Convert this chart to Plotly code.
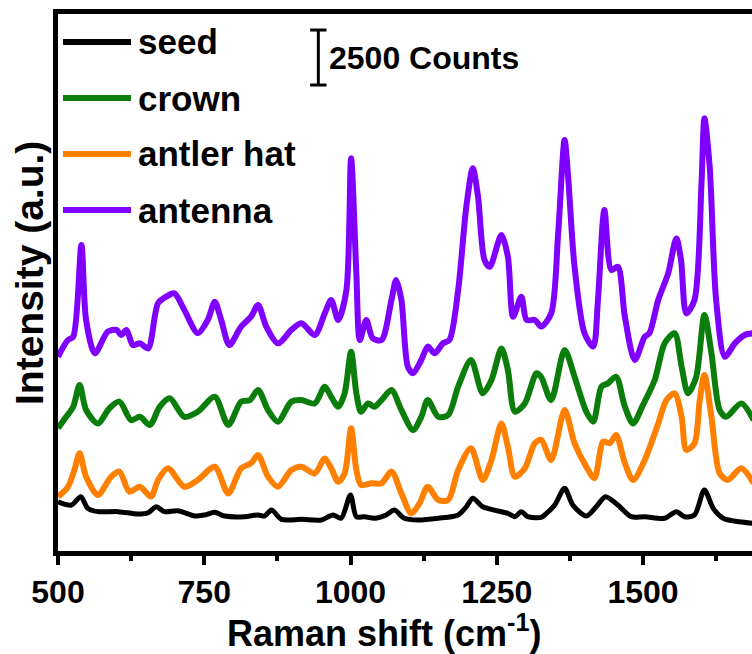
import plotly.graph_objects as go

# ---------------- data (Raman shift in cm^-1, intensity in counts) ----------------
seed_x = [500, 523, 539, 551, 568, 603, 637, 654, 668, 682, 705, 734, 751, 768, 785, 819, 842, 853, 865, 882,
          916, 950, 970, 984, 1000, 1010, 1024, 1041, 1061, 1075, 1092, 1115, 1150, 1184, 1198, 1209, 1226, 1246,
          1269, 1281, 1292, 1303, 1326, 1332, 1349, 1366, 1380, 1403, 1420, 1436, 1457, 1480, 1503, 1537, 1557,
          1571, 1588, 1605, 1620, 1637, 1689]
seed_y = [2330, 2180, 2560, 2030, 1880, 1880, 1770, 1830, 2100, 1880, 1920, 1680, 1730, 1850, 1680, 1650, 1730,
          1680, 1950, 1530, 1530, 1500, 1730, 1580, 2640, 1650, 1650, 1580, 1730, 1950, 1580, 1500, 1580, 1730,
          2100, 2490, 2100, 1950, 1800, 1650, 1880, 1650, 1620, 1730, 2180, 2940, 2180, 1680, 2100, 2560, 2180,
          1650, 1650, 1580, 1880, 1650, 1730, 2860, 2030, 1580, 1350]

crown_x = [500, 514, 526, 537, 548, 568, 588, 605, 625, 640, 657, 674, 691, 716, 739, 768, 791, 813, 828, 842,
           859, 876, 899, 916, 939, 956, 967, 979, 990, 1001, 1010, 1018, 1030, 1041, 1053, 1070, 1087, 1107,
           1121, 1132, 1150, 1167, 1184, 1206, 1226, 1241, 1258, 1269, 1281, 1298, 1318, 1326, 1343, 1366, 1383,
           1403, 1415, 1429, 1440, 1454, 1469, 1483, 1500, 1520, 1537, 1554, 1566, 1577, 1591, 1605, 1617, 1631,
           1642, 1668, 1689]
crown_y = [5670, 6190, 6650, 7640, 6500, 5890, 6580, 6880, 6040, 6190, 5820, 6650, 7030, 6190, 6420, 7100, 5820,
           6880, 6950, 7410, 6500, 5970, 6880, 6950, 6800, 7560, 7100, 6650, 7260, 9150, 7260, 6420, 6800, 6650,
           6950, 7410, 6500, 5590, 6190, 6950, 6190, 6270, 7560, 8770, 7260, 7860, 9300, 8320, 6420, 6800, 8170,
           8000, 6950, 9230, 8010, 6420, 5970, 7560, 7710, 8010, 6650, 5890, 6730, 7860, 9530, 9990, 8470, 7260,
           8010, 10820, 9080, 6500, 6190, 6800, 6040]

antler_x = [500, 517, 528, 537, 548, 568, 591, 605, 622, 640, 659, 671, 688, 716, 739, 768, 791, 813, 830, 842,
            859, 876, 899, 916, 939, 956, 967, 979, 990, 1001, 1010, 1018, 1036, 1053, 1070, 1087, 1104, 1118,
            1132, 1150, 1167, 1184, 1206, 1226, 1241, 1258, 1269, 1281, 1298, 1315, 1326, 1343, 1366, 1383, 1403,
            1417, 1432, 1443, 1454, 1469, 1483, 1503, 1526, 1540, 1554, 1566, 1574, 1588, 1597, 1605, 1617, 1631,
            1645, 1668, 1689]
antler_y = [2560, 3010, 3770, 4530, 3470, 2640, 3470, 3700, 2790, 3010, 2560, 3320, 3850, 3010, 3320, 3920, 2710,
            3850, 4080, 4450, 3470, 3010, 3770, 3920, 3620, 4300, 3850, 3240, 3620, 5670, 3770, 3090, 3170, 3170,
            3700, 2710, 1800, 2260, 3010, 2410, 2410, 3770, 4760, 3320, 4230, 5890, 4830, 3470, 3850, 4990, 5140,
            4230, 6500, 4990, 3920, 3400, 5060, 4990, 5360, 4080, 3320, 4230, 5890, 6950, 7260, 6190, 4680, 4990,
            6950, 8090, 6190, 3620, 3320, 3850, 3170]

antenna_x = [500, 517, 526, 540, 548, 563, 585, 600, 608, 617, 628, 640, 654, 671, 685, 699, 716, 739, 756, 768,
             779, 793, 813, 830, 842, 856, 876, 899, 916, 939, 956, 967, 979, 993, 1001, 1010, 1016, 1027, 1038,
             1053, 1070, 1078, 1087, 1098, 1107, 1121, 1132, 1144, 1158, 1169, 1184, 1198, 1209, 1218, 1229, 1238,
             1258, 1269, 1278, 1292, 1301, 1315, 1326, 1343, 1355, 1366, 1372, 1383, 1400, 1415, 1423, 1434, 1446,
             1457, 1469, 1486, 1503, 1511, 1526, 1543, 1557, 1565, 1574, 1588, 1600, 1605, 1614, 1625, 1640, 1657,
             1674, 1689]
antenna_y = [8920, 9680, 9830, 14000, 10590, 9080, 10060, 10140, 9910, 10140, 9450, 9530, 9300, 11350, 11650,
             11800, 11040, 9990, 10590, 11420, 10590, 9450, 10290, 10740, 11270, 10290, 9530, 10140, 10440, 9910,
             10890, 11500, 10590, 11950, 17940, 12710, 9680, 10590, 9760, 9680, 11500, 12410, 11500, 8470, 8170,
             8770, 9380, 9080, 9530, 9680, 11950, 15740, 17490, 16190, 13320, 13010, 14450, 13470, 10740, 11650,
             10590, 10590, 10290, 10890, 14530, 18770, 17100, 13010, 9990, 9380, 11500, 15590, 12860, 13010, 10740,
             8770, 9830, 9990, 11500, 12710, 14300, 13320, 10890, 11500, 16800, 19760, 17560, 11500, 8920, 9530,
             9910, 9990]

series_names = ["seed", "crown", "antler hat", "antenna"]
series_x = [seed_x, crown_x, antler_x, antenna_x]
series_y = [seed_y, crown_y, antler_y, antenna_y]
series_colors = ["#000000", "#0A7D0A", "#FF8000", "#8000FF"]
series_widths = [5, 6, 6, 6]

x_ticks = [500, 750, 1000, 1250, 1500]
x_minor_ticks = [625, 875, 1125, 1375, 1625]
scale_counts = 2500
scale_label = "2500 Counts"
x_title = "Raman shift (cm<sup>-1</sup>)"
y_title = "Intensity (a.u.)"

# ---------------- figure ----------------
W, H = 752, 654
ML, MR, MT, MB = 58, 0, 14, 103
PW, PH = W - ML - MR, H - MT - MB
FONT = "Liberation Sans, Arial, sans-serif"

fig = go.Figure()
for name, xs, ys, col, lw in zip(series_names, series_x, series_y, series_colors, series_widths):
    fig.add_trace(go.Scatter(x=xs, y=ys, mode="lines", name=name,
                             line=dict(color=col, width=lw, shape="spline", smoothing=0.8),
                             showlegend=False))

def px_to_paper_x(px):
    return (px - ML) / PW

def px_to_paper_y(py):
    return 1 - (py - MT) / PH

shapes = []
annotations = []
# manual legend
leg_y_px = [42, 98, 154, 210]
for name, col, py in zip(series_names, series_colors, leg_y_px):
    yp = px_to_paper_y(py)
    shapes.append(dict(type="line", xref="paper", yref="paper",
                       x0=px_to_paper_x(63), x1=px_to_paper_x(131), y0=yp, y1=yp,
                       line=dict(color=col, width=6)))
    annotations.append(dict(xref="paper", yref="paper", x=px_to_paper_x(136), y=yp,
                            xanchor="left", yanchor="middle", showarrow=False, text=name,
                            font=dict(family=FONT, size=35, color="black", weight="bold")))

# scale bar (data coordinates)
sb_x = 945
sb_y0 = 21270
sb_y1 = sb_y0 + scale_counts
cap = 14
shapes.append(dict(type="line", xref="x", yref="y", x0=sb_x, x1=sb_x, y0=sb_y0, y1=sb_y1,
                   line=dict(color="black", width=3)))
for yy in (sb_y0, sb_y1):
    shapes.append(dict(type="line", xref="x", yref="y", x0=sb_x - cap, x1=sb_x + cap, y0=yy, y1=yy,
                       line=dict(color="black", width=3)))
annotations.append(dict(xref="x", yref="y", x=sb_x, y=(sb_y0 + sb_y1) / 2, xanchor="left", yanchor="middle",
                        xshift=9, showarrow=False, text=scale_label,
                        font=dict(family=FONT, size=32, color="black", weight="bold")))

# axis titles
annotations.append(dict(xref="paper", yref="paper", x=px_to_paper_x(384), y=px_to_paper_y(631),
                        xanchor="center", yanchor="middle", showarrow=False, text=x_title,
                        font=dict(family=FONT, size=36, color="black", weight="bold")))
annotations.append(dict(xref="paper", yref="paper", x=px_to_paper_x(29), y=px_to_paper_y(273),
                        xanchor="center", yanchor="middle", showarrow=False, text=y_title, textangle=-90,
                        font=dict(family=FONT, size=39, color="black", weight="bold")))

fig.update_layout(
    width=W, height=H,
    margin=dict(l=ML, r=MR, t=MT, b=MB, autoexpand=False),
    paper_bgcolor="white", plot_bgcolor="white",
    showlegend=False,
    shapes=shapes, annotations=annotations,
    font=dict(family=FONT, color="black"),
)
fig.update_xaxes(
    range=[500, 500 + PW / 0.585], tickmode="array", tickvals=x_ticks,
    ticktext=[str(t) for t in x_ticks],
    showline=True, linecolor="black", linewidth=5, mirror=True,
    ticks="outside", ticklen=9, tickwidth=4, tickcolor="black",
    minor=dict(tickmode="array", tickvals=x_minor_ticks, ticks="outside",
               ticklen=5, tickwidth=4, tickcolor="black"),
    showgrid=False, zeroline=False,
    tickfont=dict(family=FONT, size=32, color="black", weight="bold"),
    ticklabelstandoff=0,
    automargin=False,
)
fig.update_yaxes(
    range=[91, 24498],
    showline=True, linecolor="black", linewidth=5, mirror=False,
    ticks="", showticklabels=False, showgrid=False, zeroline=False,
    automargin=False,
)

fig.write_html("out.html")
